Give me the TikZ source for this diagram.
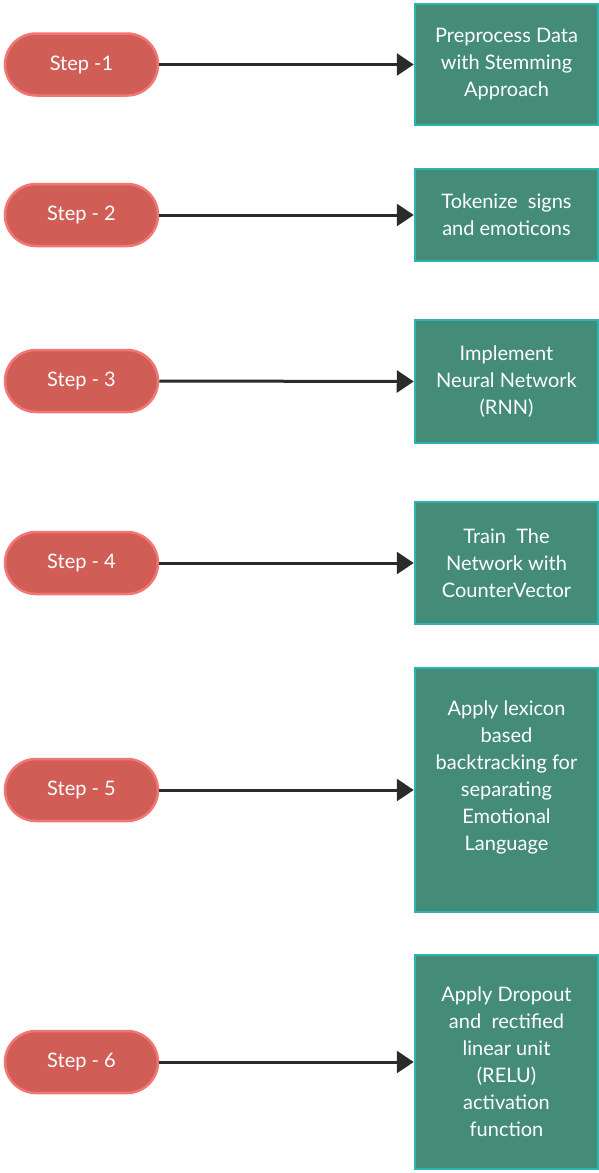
\documentclass[tikz,border=0pt]{standalone}
\usepackage{fontspec}
\setmainfont{Lato}
\usetikzlibrary{arrows.meta}
\definecolor{pillfill}{HTML}{D05E57}
\definecolor{pillline}{HTML}{F27674}
\definecolor{boxfill}{HTML}{448C78}
\definecolor{boxline}{HTML}{2BB4AE}
\definecolor{arrowcol}{HTML}{2B2B2B}
\tikzset{
  stepnode/.style={draw=pillline, fill=pillfill, line width=2.5pt, rounded corners=31pt,
    minimum width=153pt, minimum height=62pt, inner sep=0pt, text=white,
    font=\fontsize{20}{27}\selectfont},
  boxnode/.style={draw=boxline, fill=boxfill, line width=2.5pt,
    minimum width=183pt, inner sep=0pt},
  boxtext/.style={text=white, align=center, font=\fontsize{20}{27}\selectfont, inner sep=0pt},
  conn/.style={draw=arrowcol, line width=3pt, -{Triangle[length=17pt,width=22pt]}},
}
\begin{document}
\begin{tikzpicture}[x=1pt,y=-1pt]
\useasboundingbox[fill=white] (0,0) rectangle (599,1173);
% steps
\node[stepnode] (s1) at (81.5,64.5) {Step -1};
\node[stepnode] (s2) at (81.5,215) {Step - 2};
\node[stepnode] (s3) at (81.5,381) {Step - 3};
\node[stepnode] (s4) at (81.5,563) {Step - 4};
\node[stepnode] (s5) at (81.5,790) {Step - 5};
\node[stepnode] (s6) at (81.5,1062) {Step - 6};
% boxes
\node[boxnode, minimum height=121pt] (b1) at (506.5,64.5) {};
\node[boxtext] (t1) at (506.5,64.5) {Preprocess Data\\with Stemming\\Approach};
\node[boxnode, minimum height=92pt] (b2) at (506.5,215) {};
\node[boxtext] (t2) at (506.5,215) {Tokenize\ \ signs\\and emoticons};
\node[boxnode, minimum height=123pt] (b3) at (506.5,381.5) {};
\node[boxtext] (t3) at (506.5,381.5) {Implement\\Neural Network\\(RNN)};
\node[boxnode, minimum height=122pt] (b4) at (506.5,563) {};
\node[boxtext] (t4) at (506.5,563) {Train\ \ The\\Network with\\CounterVector};
\node[boxnode, minimum height=244pt] (b5) at (506.5,790) {};
\node[boxtext] (t5) at (506.5,777) {Apply lexicon\\based\\backtracking for\\separating\\Emotional\\Language};
\node[boxnode, minimum height=214pt] (b6) at (506.5,1062) {};
\node[boxtext] (t6) at (506.5,1062) {Apply Dropout\\and\ \ rectified\\linear unit\\(RELU)\\activation\\function};
% connectors
\foreach \i in {1,...,6} {
  \draw[conn] (s\i.east) -- (b\i.west);
}
\end{tikzpicture}
\end{document}
